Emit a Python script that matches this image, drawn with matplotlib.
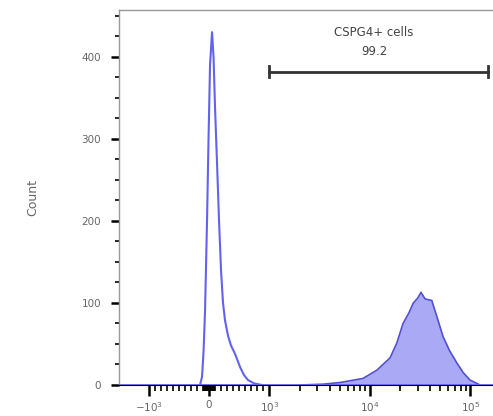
import matplotlib
matplotlib.use("Agg")
import matplotlib.pyplot as plt
import numpy as np
from matplotlib.ticker import FixedLocator, NullFormatter

# negative control histogram (unfilled), fluorescence vs count
ctrl_x = [-149, -116, -91, -66, -33, -8, 17, 50, 75, 99, 133, 166, 199, 232,
          265, 315, 365, 431, 514, 580, 647, 746, 879]
ctrl_y = [0, 10, 40, 90, 200, 300, 390, 430, 400, 340, 270, 200, 140, 100,
          79, 60, 48, 38, 22, 12, 6, 2, 0]

# CSPG4 stained histogram (filled)
cspg_x = [2021, 3420, 5050, 8550, 11720, 15880, 18530, 21400, 24500, 27100,
          30000, 32270, 35400, 38000, 41300, 46000, 53500, 62000, 73300,
          85000, 99300, 125000]
cspg_y = [0, 1, 3, 8, 18, 33, 51, 75, 88, 100, 106, 113, 105, 104, 103, 85,
          59, 42, 27, 15, 6, 0]

gate_lo, gate_hi = 1000, 150000
gate_y = 382
gate_name = "CSPG4+ cells"
gate_pct = "99.2"

x_major = [-1000, 0, 1000, 10000, 100000]
x_labels = [r"$-10^3$", "0", r"$10^3$", r"$10^4$", r"$10^5$"]
x_minor = ([-v for v in range(100, 1000, 100)] + [-v for v in range(10, 100, 10)]
           + list(range(10, 100, 10)) + list(range(100, 1000, 100))
           + list(range(2000, 10000, 1000)) + list(range(20000, 100000, 10000)))

GRAY = "#666666"
LINE = "#6262ee"
FILL = "#a9a9f6"
EDGE = "#5050d0"

fig = plt.figure(figsize=(4.93, 4.16), dpi=100)
ax = fig.add_axes([119 / 493, 31 / 416, 374 / 493, 375 / 416])

ax.set_xscale("symlog", linthresh=1000, linscale=0.54)
ax.set_xlim(-1975, 168000)
ax.set_ylim(0, 457)

ax.fill_between(cspg_x, cspg_y, color=FILL, lw=0)
ax.plot(cspg_x, cspg_y, color=EDGE, lw=1.2)
ax.plot(ctrl_x, ctrl_y, color=LINE, lw=1.5)
ax.axhline(0, color=LINE, lw=2, zorder=3)

# gate bar
ax.plot([gate_lo, gate_hi], [gate_y, gate_y], color="#333333", lw=2)
for gx in (gate_lo, gate_hi):
    ax.plot([gx, gx], [gate_y - 7, gate_y + 7], color="#333333", lw=2)
gx_mid = np.sqrt(gate_lo * gate_hi) * 0.9
ax.text(gx_mid, 429, gate_name, ha="center", va="center", fontsize=8.5, color="#444444")
ax.text(gx_mid, 406, gate_pct, ha="center", va="center", fontsize=8.5, color="#444444")

ax.set_xticks(x_major)
ax.set_xticklabels(x_labels)
ax.xaxis.set_minor_locator(FixedLocator(x_minor))
ax.xaxis.set_minor_formatter(NullFormatter())
ax.set_yticks([0, 100, 200, 300, 400])
ax.yaxis.set_minor_locator(FixedLocator(np.arange(25, 457, 25)))

ax.tick_params(axis="both", which="major", length=6, width=1.8, color="black",
               labelsize=7.5, labelcolor=GRAY)
ax.tick_params(axis="both", which="minor", length=3, width=1.2, color="black")
ax.tick_params(axis="x", which="major", length=8, pad=3)
ax.tick_params(axis="x", which="minor", length=4)
ax.tick_params(axis="y", which="major", pad=7)

ax.set_ylabel("Count", fontsize=9, color=GRAY, labelpad=30)

for s in ("top", "left"):
    ax.spines[s].set_color("#999999")
    ax.spines[s].set_linewidth(1.0)
ax.spines["right"].set_visible(False)
ax.spines["bottom"].set_color("black")

fig.savefig("out.png", dpi=100)
